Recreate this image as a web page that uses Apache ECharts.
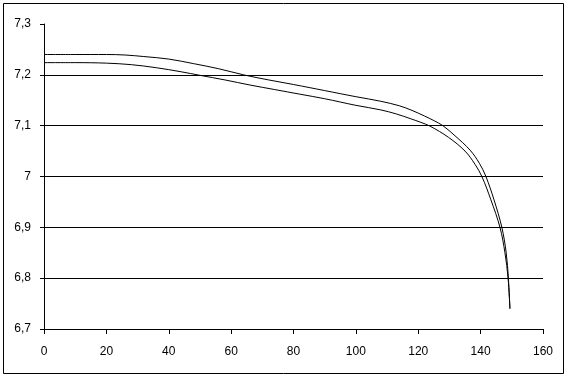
<!DOCTYPE html>
<html>
<head>
<meta charset="utf-8">
<script src="https://cdn.jsdelivr.net/npm/echarts@6/dist/echarts.min.js"></script>
<style>
  html, body { margin: 0; padding: 0; background: #fff; }
  #chart { width: 568px; height: 378px; }
</style>
</head>
<body>
<div id="chart"></div>
<script>
  // x ticks and y tick labels (comma decimals as in the original)
  var xTicks = [0, 20, 40, 60, 80, 100, 120, 140, 160];
  var yTicks = ['6,7', '6,8', '6,9', '7', '7,1', '7,2', '7,3'];

  // upper curve  [x, value]
  var upper = [
    [0, 7.240], [10, 7.240], [20, 7.240], [26, 7.239], [32, 7.236],
    [40, 7.231], [48, 7.222], [56, 7.212], [64, 7.200], [72, 7.190],
    [80, 7.181], [90, 7.169], [100, 7.157], [108, 7.148], [114, 7.139],
    [118, 7.130], [122, 7.119], [125, 7.110], [127.9, 7.100], [131.8, 7.080],
    [136.6, 7.052], [139.6, 7.026], [141.7, 7.000], [144.3, 6.954],
    [146.8, 6.900], [148.2, 6.850], [148.9, 6.800], [149.4, 6.740]
  ];

  // lower curve  [x, value]
  var lower = [
    [0, 7.224], [10, 7.224], [20, 7.223], [28, 7.220], [36, 7.214],
    [44, 7.206], [50, 7.199], [58, 7.190], [66, 7.180], [74, 7.171],
    [82, 7.162], [90, 7.153], [100, 7.140], [108, 7.131], [113, 7.123],
    [117.4, 7.114], [120.6, 7.107], [123.8, 7.099], [129.7, 7.077], [135.0, 7.050],
    [138.2, 7.024], [140.4, 7.000], [143.3, 6.954], [146.2, 6.900],
    [147.8, 6.850], [148.8, 6.800], [149.4, 6.740]
  ];

  var chart = echarts.init(document.getElementById('chart'));
  var font = { fontFamily: 'Liberation Sans', fontSize: 12, color: '#000' };

  var option = {
    animation: false,
    backgroundColor: '#fff',
    grid: { left: 44, right: 25, top: 24, bottom: 49 },
    graphic: [{
      type: 'rect',
      shape: { x: 3.5, y: 3.5, width: 560, height: 370 },
      style: { fill: 'none', stroke: '#000', lineWidth: 1 },
      silent: true
    }],
    xAxis: {
      type: 'value',
      min: xTicks[0],
      max: xTicks[xTicks.length - 1],
      interval: 20,
      axisLine: { lineStyle: { color: '#000', width: 1 } },
      axisTick: { show: true, inside: false, length: 5, lineStyle: { color: '#000' } },
      axisLabel: Object.assign({ margin: 17 }, font),
      splitLine: { show: false }
    },
    yAxis: {
      type: 'value',
      min: 6.7,
      max: 7.3,
      interval: 0.1,
      axisLine: { show: true, lineStyle: { color: '#000', width: 1 } },
      axisTick: { show: true, inside: false, length: 4, lineStyle: { color: '#000' } },
      axisLabel: Object.assign({
        margin: 13,
        formatter: function (v) {
          var i = Math.round((v - 6.7) * 10);
          return yTicks[i];
        }
      }, font),
      splitLine: { show: true, showMaxLine: false, lineStyle: { color: '#000', width: 1 } }
    },
    series: [
      {
        type: 'line',
        data: upper,
        smooth: 0.35,
        symbol: 'none',
        lineStyle: { color: '#000', width: 1 }
      },
      {
        type: 'line',
        data: lower,
        smooth: 0.35,
        symbol: 'none',
        lineStyle: { color: '#000', width: 1 }
      }
    ]
  };
  chart.setOption(option);
</script>
</body>
</html>
